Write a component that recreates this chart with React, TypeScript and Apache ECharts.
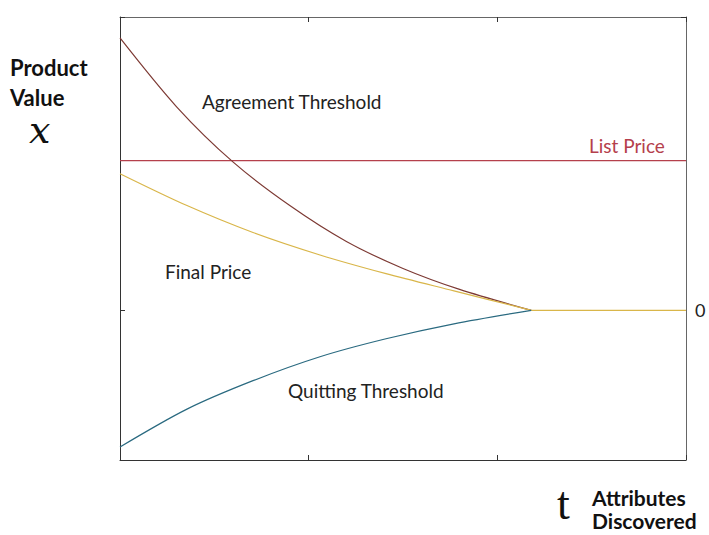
import React, { useEffect, useRef } from "react";
import * as echarts from "echarts";

const tTicks = [0, 1, 2, 3];
const listPrice: number[][] = [[0, 1], [3, 1]];
const agreement: number[][] = [[0, 1.82], [0.3, 1.36], [0.6, 0.99], [0.9, 0.7], [1.2, 0.46], [1.5, 0.28], [1.8, 0.14], [2.18, 0]];
const finalPrice: number[][] = [[0, 0.913], [0.355, 0.7], [0.705, 0.52], [1.06, 0.37], [1.41, 0.245], [1.77, 0.13], [2.18, 0]];
const finalFlat: number[][] = [[2.18, 0], [3, 0]];
const quitting: number[][] = [[0, -0.913], [0.355, -0.66], [0.705, -0.47], [1.06, -0.31], [1.41, -0.19], [1.77, -0.09], [2.18, 0]];

const FONT = "Lato";

export default function App() {
  const ref = useRef<HTMLDivElement>(null);
  useEffect(() => {
    document.body.style.margin = "0";
    if (!ref.current) return;
    const chart = echarts.init(ref.current, null, { renderer: "svg" });
    const dark = { show: true, onZero: false, lineStyle: { color: "#333", width: 1 } };
    const grey = { show: true, onZero: false, lineStyle: { color: "#666", width: 1 } };
    const tick = { show: true, inside: true, length: 5, lineStyle: { color: "#333", width: 1 } };
    const txt = (text: string, x: number, y: number, font: string, fill = "#222", lineHeight?: number) => ({
      type: "text", x, y, style: { text, font, fill, align: "left", verticalAlign: "middle", lineHeight },
    });
    chart.setOption({
      animation: false,
      backgroundColor: "#fff",
      grid: { left: 120, right: 23, top: 17, bottom: 75, containLabel: false },
      xAxis: [
        { type: "value", min: tTicks[0], max: tTicks[tTicks.length - 1], interval: 1, position: "bottom", axisLine: dark, axisTick: tick, axisLabel: { show: false }, splitLine: { show: false } },
        { type: "value", min: tTicks[0], max: tTicks[tTicks.length - 1], interval: 1, position: "top", axisLine: grey, axisTick: tick, axisLabel: { show: false }, splitLine: { show: false } },
      ],
      yAxis: [
        { type: "value", min: -1, max: 1.96, interval: 1, position: "left", axisLine: dark, axisTick: tick, axisLabel: { show: false }, splitLine: { show: false } },
        {
          type: "value", min: -1, max: 1.96, interval: 1, position: "right",
          axisLine: grey, axisTick: tick,
          axisLabel: { show: true, margin: 9, color: "#222", fontFamily: FONT, fontSize: 18, formatter: (v: number) => (v === 0 ? "0" : "") },
          splitLine: { show: false },
        },
      ],
      series: [
        { name: "List Price", type: "line", data: listPrice, symbol: "none", lineStyle: { color: "#b5404c", width: 1.2 } },
        { name: "Agreement Threshold", type: "line", data: agreement, smooth: 0.3, symbol: "none", lineStyle: { color: "#7d3a34", width: 1.2 } },
        { name: "Final Price", type: "line", data: finalPrice, smooth: 0.3, symbol: "none", lineStyle: { color: "#d9b64a", width: 1.2 } },
        { name: "Final Price flat", type: "line", data: finalFlat, symbol: "none", lineStyle: { color: "#d9b64a", width: 1.2 } },
        { name: "Quitting Threshold", type: "line", data: quitting, smooth: 0.3, symbol: "none", lineStyle: { color: "#2a6a80", width: 1.2 } },
      ],
      graphic: [
        txt("Product\nValue", 10, 82, `bold 22px ${FONT}`, "#111", 30),
        txt("x", 29, 130, `italic 38px "DejaVu Serif"`, "#111"),
        txt("Agreement Threshold", 202, 101, `19px ${FONT}`),
        txt("Final Price", 165, 271, `19px ${FONT}`),
        txt("Quitting Threshold", 288, 390, `19px ${FONT}`),
        txt("List Price", 589, 145, `19px ${FONT}`, "#b5404c"),
        txt("t", 557, 503, `46px "Liberation Serif"`, "#111"),
        txt("Attributes", 592, 497, `bold 21px ${FONT}`, "#111"),
        txt("Discovered", 592, 520, `bold 21px ${FONT}`, "#111"),
      ],
    });
    return () => chart.dispose();
  }, []);
  return <div ref={ref} style={{ width: 709, height: 535 }} />;
}
